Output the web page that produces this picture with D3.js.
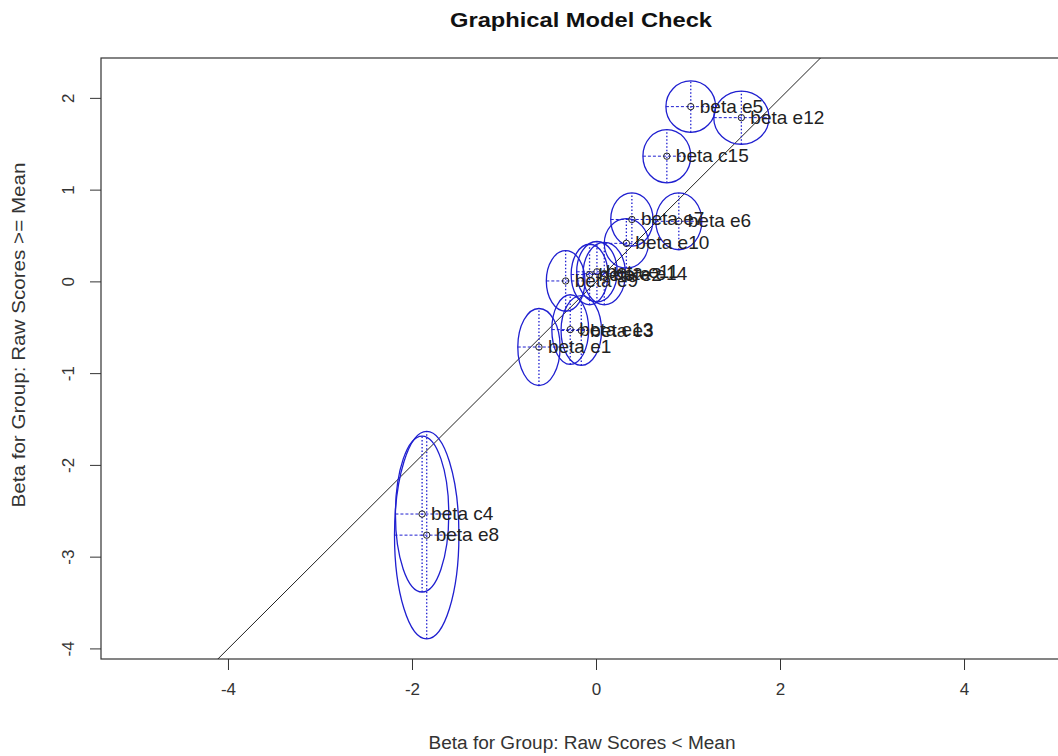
<!DOCTYPE html>
<html>
<head>
<meta charset="utf-8">
<script src="https://cdn.jsdelivr.net/npm/d3@7"></script>
<style>
  body { margin: 0; background: #fff; }
  svg text { font-family: "Liberation Sans", Arial, sans-serif; }
</style>
</head>
<body>
<svg width="1058" height="756"></svg>
<script>
// --- Data ---
const itemLabels = ["beta e1", "beta e2", "beta e3", "beta c4", "beta e5", "beta e6", "beta e7", "beta e8",
    "beta e9", "beta e10", "beta e11", "beta e12", "beta e13", "beta e14", "beta c15"];
const betaLow  = [-0.62, -0.07, -0.16, -1.89, 1.03, 0.90, 0.39, -1.84, -0.33, 0.33, 0.01, 1.58, -0.28, 0.09, 0.77];
const betaHigh = [-0.71, 0.08, -0.53, -2.53, 1.91, 0.66, 0.68, -2.76, 0.01, 0.42, 0.11, 1.79, -0.52, 0.09, 1.37];
const ciLow    = [0.23, 0.20, 0.22, 0.29, 0.27, 0.25, 0.23, 0.35, 0.21, 0.24, 0.22, 0.30, 0.20, 0.23, 0.26];
const ciHigh   = [0.42, 0.33, 0.38, 0.85, 0.28, 0.31, 0.29, 1.13, 0.33, 0.27, 0.33, 0.29, 0.38, 0.34, 0.29];
const xTicks = [-4, -2, 0, 2, 4];
const yTicks = [-4, -3, -2, -1, 0, 1, 2];

// --- Setup ---
const svg = d3.select("svg");
const x = d3.scaleLinear().domain([-5.38, 5.38]).range([101, 1091]);
const y = d3.scaleLinear().domain([-4.11, 2.44]).range([659, 58]);
const blue = "#1f1fd0";
const fmt = d => String(d);   // plain hyphen like R

const items = itemLabels.map((label, i) => ({
    label, bx: betaLow[i], by: betaHigh[i], cx: ciLow[i], cy: ciHigh[i]
}));

// --- Title ---
svg.append("text")
    .attr("x", 581).attr("y", 27)
    .attr("text-anchor", "middle")
    .attr("font-size", "21px").attr("font-weight", "bold")
    .attr("fill", "#111")
    .attr("textLength", 262).attr("lengthAdjust", "spacingAndGlyphs")
    .text("Graphical Model Check");

// --- Box ---
svg.append("rect")
    .attr("x", x.range()[0]).attr("y", y.range()[1])
    .attr("width", x.range()[1] - x.range()[0])
    .attr("height", y.range()[0] - y.range()[1])
    .attr("fill", "none").attr("stroke", "#333").attr("stroke-width", 1.2);

// --- Axes ---
const xAxis = svg.append("g")
    .attr("transform", `translate(0,${y.range()[0]})`)
    .call(d3.axisBottom(x).tickValues(xTicks).tickSize(11).tickPadding(13).tickFormat(fmt));
const yAxis = svg.append("g")
    .call(d3.axisLeft(y).tickValues(yTicks).tickSize(11).tickFormat(fmt));
[xAxis, yAxis].forEach(a => {
    a.select(".domain").remove();
    a.selectAll("line").attr("stroke", "#333");
    a.selectAll("text").attr("font-size", "17px").attr("fill", "#333")
        .attr("font-family", "Liberation Sans, Arial, sans-serif");
});
// y tick labels rotated like R (las = 0)
yAxis.selectAll(".tick").each(function (d) {
    const g = d3.select(this).attr("transform", null);
    g.select("line").attr("x1", x.range()[0] - 11).attr("x2", x.range()[0])
        .attr("y1", y(d)).attr("y2", y(d));
    g.select("text")
        .attr("text-anchor", "middle")
        .attr("x", 0).attr("y", 0).attr("dy", null)
        .attr("transform", `translate(${x.range()[0] - 27},${y(d)}) rotate(-90)`);
});

// --- Axis titles ---
svg.append("text")
    .attr("x", 582).attr("y", 749)
    .attr("text-anchor", "middle").attr("font-size", "18px").attr("fill", "#333")
    .attr("textLength", 307).attr("lengthAdjust", "spacingAndGlyphs")
    .text("Beta for Group: Raw Scores < Mean");
svg.append("text")
    .attr("transform", "translate(25,335) rotate(-90)")
    .attr("text-anchor", "middle").attr("font-size", "18px").attr("fill", "#333")
    .attr("textLength", 345).attr("lengthAdjust", "spacingAndGlyphs")
    .text("Beta for Group: Raw Scores >= Mean");

// --- Plot region ---
const plot = svg.append("g");
plot.append("clipPath").attr("id", "clip").append("rect")
    .attr("x", x.range()[0]).attr("y", y.range()[1])
    .attr("width", x.range()[1] - x.range()[0])
    .attr("height", y.range()[0] - y.range()[1]);

// identity line
plot.append("line")
    .attr("clip-path", "url(#clip)")
    .attr("x1", x(-5)).attr("y1", y(-5))
    .attr("x2", x(3)).attr("y2", y(3))
    .attr("stroke", "#222").attr("stroke-width", 1);

// confidence ellipses
plot.selectAll("ellipse.ci")
    .data(items).enter().append("ellipse")
    .attr("class", "ci")
    .attr("cx", d => x(d.bx)).attr("cy", d => y(d.by))
    .attr("rx", d => x(d.bx + d.cx) - x(d.bx))
    .attr("ry", d => y(d.by) - y(d.by + d.cy))
    .attr("fill", "none").attr("stroke", blue).attr("stroke-width", 1.3);

// horizontal dashed CI
plot.selectAll("line.h")
    .data(items).enter().append("line")
    .attr("class", "h")
    .attr("x1", d => x(d.bx - d.cx)).attr("x2", d => x(d.bx + d.cx))
    .attr("y1", d => y(d.by)).attr("y2", d => y(d.by))
    .attr("stroke", blue).attr("stroke-width", 1).attr("stroke-dasharray", "3,2");

// vertical dotted CI
plot.selectAll("line.v")
    .data(items).enter().append("line")
    .attr("class", "v")
    .attr("x1", d => x(d.bx)).attr("x2", d => x(d.bx))
    .attr("y1", d => y(d.by - d.cy)).attr("y2", d => y(d.by + d.cy))
    .attr("stroke", blue).attr("stroke-width", 1.3).attr("stroke-dasharray", "1.5,2");

// points
plot.selectAll("circle.pt")
    .data(items).enter().append("circle")
    .attr("class", "pt")
    .attr("cx", d => x(d.bx)).attr("cy", d => y(d.by))
    .attr("r", 3.2)
    .attr("fill", "none").attr("stroke", "#222").attr("stroke-width", 1);

// labels
plot.selectAll("text.lab")
    .data(items).enter().append("text")
    .attr("class", "lab")
    .attr("x", d => x(d.bx) + 9).attr("y", d => y(d.by) + 6)
    .attr("font-size", "19px").attr("fill", "#222")
    .text(d => d.label);
</script>
</body>
</html>
